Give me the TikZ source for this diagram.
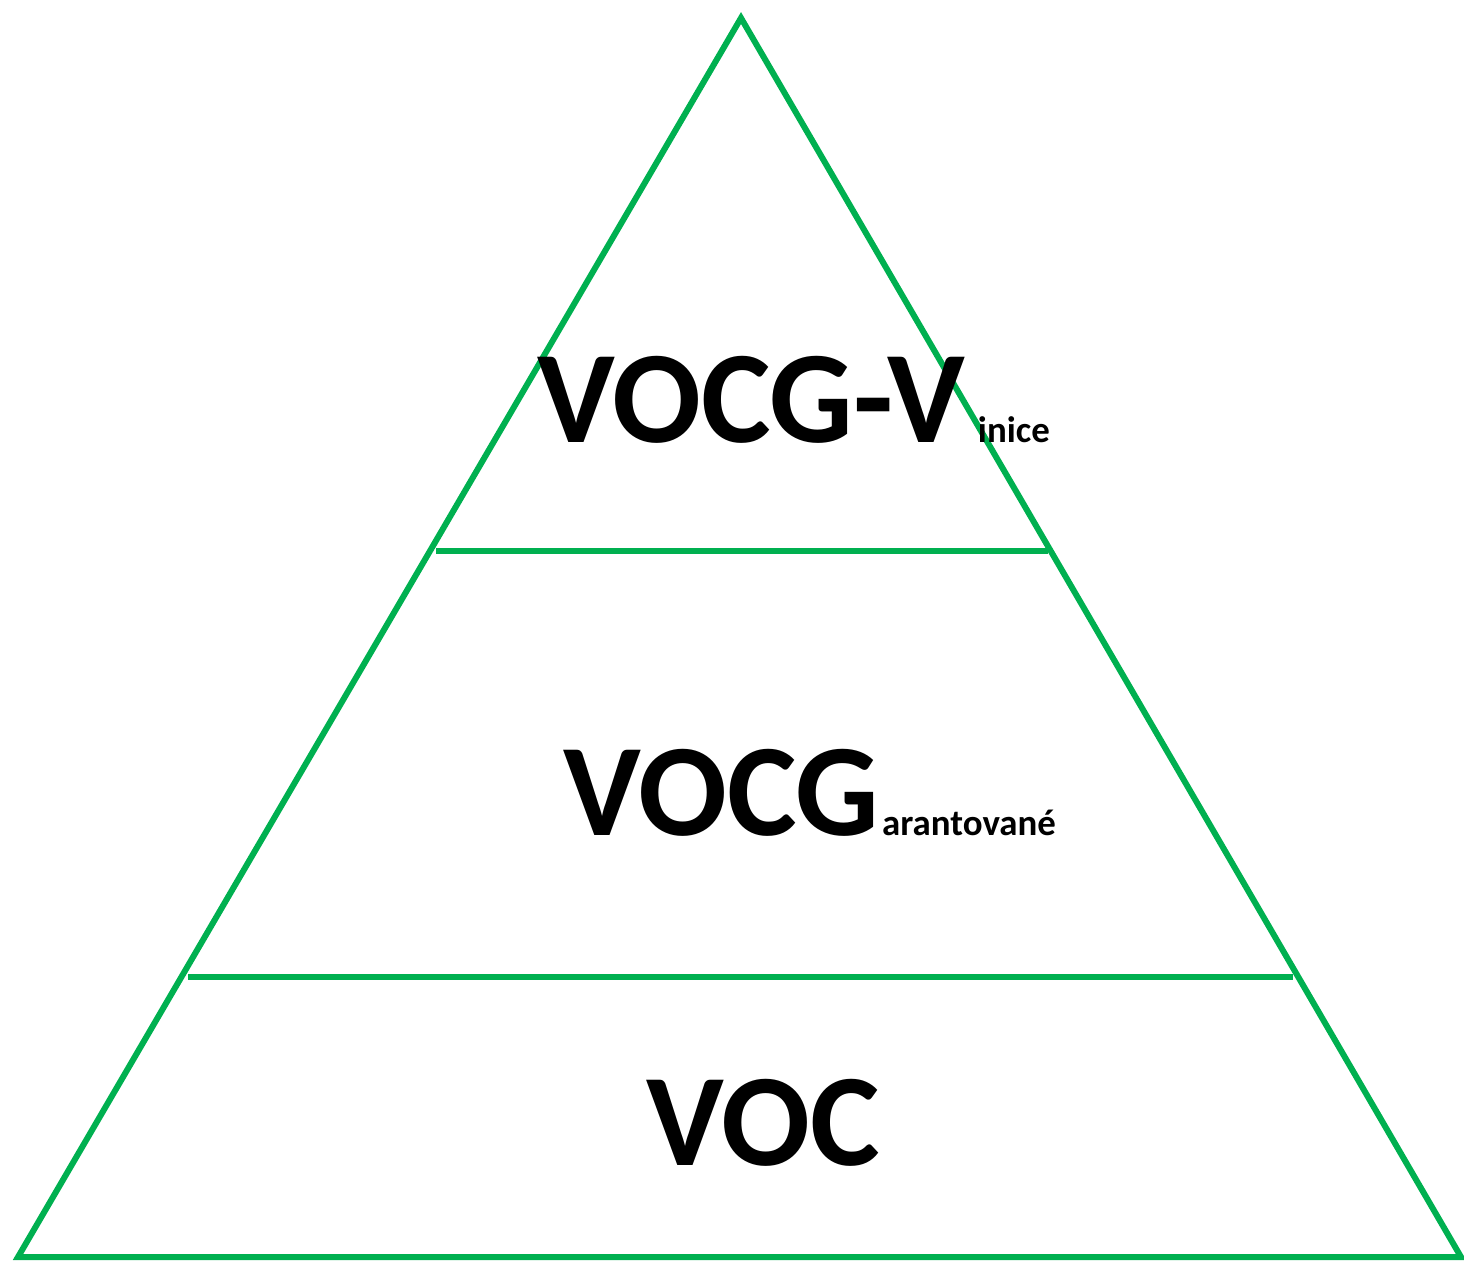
\documentclass[tikz,border=0pt]{standalone}
\usepackage{fontspec}
\setmainfont{Carlito}
\definecolor{pyrgreen}{HTML}{00B050}
\begin{document}
\begin{tikzpicture}[x=1bp,y=-1bp,
  edge/.style={draw=pyrgreen,line width=6bp},
  big/.style={inner sep=0pt,anchor=base west,font=\bfseries\fontsize{132}{132}\selectfont},
  small/.style={inner sep=0pt,anchor=base west,font=\bfseries\fontsize{37}{37}\selectfont}]
\useasboundingbox (0,0) rectangle (1464,1261);
\coordinate (apex) at (741,18);
\coordinate (bl) at (18,1257);
\coordinate (br) at (1461,1257);
\coordinate (l1a) at (436,551);
\coordinate (l1b) at (1048,551);
\coordinate (l2a) at (188,977);
\coordinate (l2b) at (1293,977);
\draw[edge,line join=miter] (bl) -- (apex) -- (br) -- cycle;
\draw[edge] (l1a) -- (l1b);
\draw[edge] (l2a) -- (l2b);
\node[big] (t1) at (537,442) {VOCG-V};
\node[small] (s1) at ([xshift=12bp]t1.base east) {inice};
\node[big] (t2) at (563,835) {VOCG};
\node[small] (s2) at ([xshift=2bp]t2.base east) {arantované};
\node[big] (t3) at (646,1165) {VOC};
\end{tikzpicture}
\end{document}
